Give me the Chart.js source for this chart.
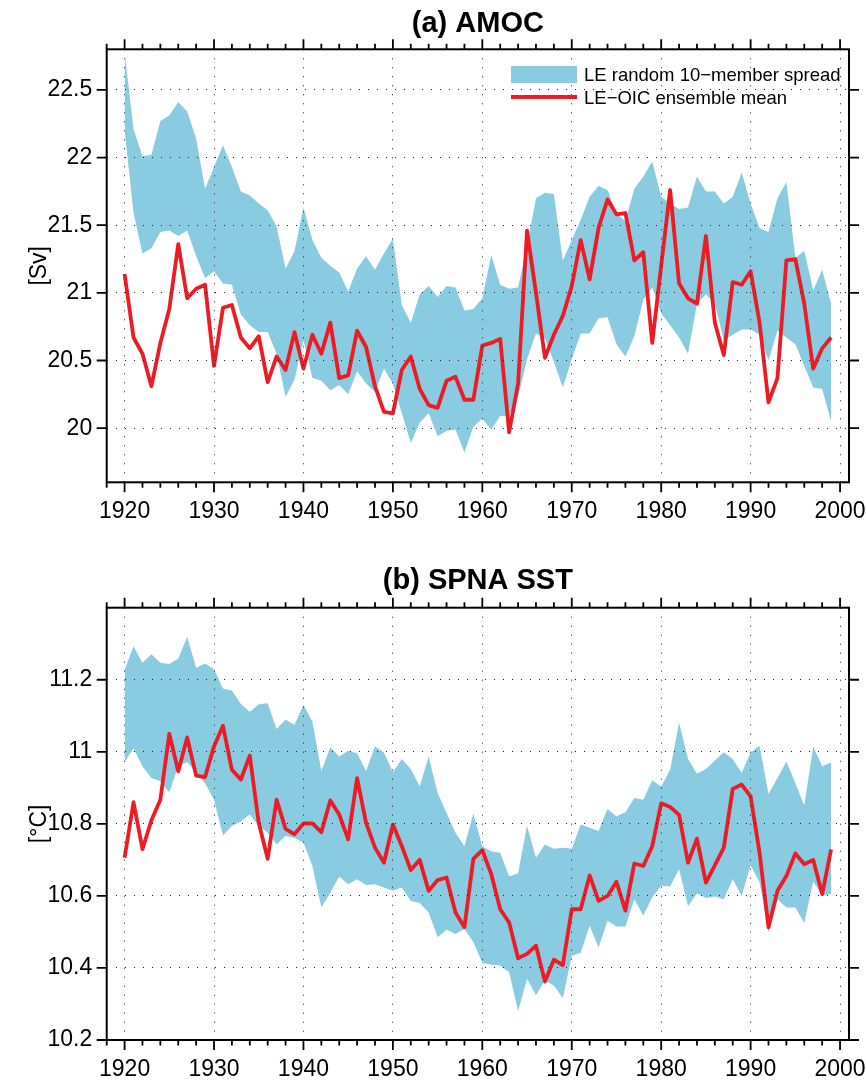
<!DOCTYPE html>
<html>
<head>
<meta charset="utf-8">
<script src="https://cdn.jsdelivr.net/npm/chart.js@4.4.1/dist/chart.umd.min.js"></script>
<style>
html,body{margin:0;padding:0;background:#fff;}
#wrap{position:relative;width:866px;height:1080px;background:#fff;}
.panel{position:absolute;left:0;width:866px;height:540px;}
</style>
</head>
<body>
<div id="wrap">
  <div class="panel" style="top:0px"><canvas id="c1" width="866" height="540"></canvas></div>
  <div class="panel" style="top:540px"><canvas id="c2" width="866" height="540"></canvas></div>
</div>
<script>
// ---------------- DATA ----------------
const years = [1920,1921,1922,1923,1924,1925,1926,1927,1928,1929,
               1930,1931,1932,1933,1934,1935,1936,1937,1938,1939,
               1940,1941,1942,1943,1944,1945,1946,1947,1948,1949,
               1950,1951,1952,1953,1954,1955,1956,1957,1958,1959,
               1960,1961,1962,1963,1964,1965,1966,1967,1968,1969,
               1970,1971,1972,1973,1974,1975,1976,1977,1978,1979,
               1980,1981,1982,1983,1984,1985,1986,1987,1988,1989,
               1990,1991,1992,1993,1994,1995,1996,1997,1998,1999];

const xTickLabels = [1920,1930,1940,1950,1960,1970,1980,1990,2000];
const xMinorTicks = [1918,1920,1922,1924,1926,1928,1930,1932,1934,1936,1938,1940,1942,1944,1946,1948,
                     1950,1952,1954,1956,1958,1960,1962,1964,1966,1968,1970,1972,1974,1976,1978,
                     1980,1982,1984,1986,1988,1990,1992,1994,1996,1998,2000];

// (a) AMOC [Sv]
const amocMean = [21.14,20.67,20.55,20.31,20.63,20.88,21.36,20.96,21.03,21.06,
                  20.46,20.89,20.91,20.67,20.59,20.68,20.34,20.53,20.43,20.71,
                  20.44,20.69,20.55,20.78,20.37,20.39,20.72,20.60,20.31,20.12,
                  20.11,20.43,20.53,20.29,20.17,20.15,20.35,20.38,20.21,20.21,
                  20.61,20.63,20.66,19.97,20.33,21.46,21.00,20.52,20.69,20.83,
                  21.05,21.39,21.10,21.48,21.69,21.58,21.59,21.24,21.30,20.63,
                  21.20,21.76,21.07,20.96,20.92,21.42,20.78,20.54,21.08,21.06,
                  21.16,20.78,20.19,20.37,21.24,21.25,20.92,20.44,20.59,20.67];
const amocUpper = [22.78,22.21,22.01,22.02,22.27,22.31,22.41,22.34,22.14,21.77,
                   21.93,22.09,21.93,21.75,21.72,21.66,21.61,21.49,21.18,21.31,
                   21.63,21.39,21.26,21.20,21.15,21.01,21.18,21.27,21.17,21.29,
                   21.40,20.91,20.78,20.99,21.05,20.97,21.05,21.04,20.87,20.88,
                   20.96,21.28,21.06,21.03,21.04,21.35,21.70,21.74,21.73,21.24,
                   21.39,21.54,21.71,21.79,21.76,21.59,21.53,21.77,21.86,21.97,
                   21.71,21.66,21.62,21.63,21.86,21.75,21.75,21.66,21.71,21.89,
                   21.66,21.48,21.45,21.70,21.82,21.26,21.31,21.02,21.17,20.92];
const amocLower = [22.20,21.59,21.29,21.33,21.45,21.46,21.42,21.46,21.27,21.11,
                   21.16,21.07,21.06,20.84,20.76,20.71,20.71,20.55,20.23,20.36,
                   20.65,20.37,20.35,20.28,20.32,20.25,20.42,20.33,20.27,20.44,
                   20.33,20.11,19.89,20.04,20.11,19.94,19.98,19.99,19.82,20.01,
                   20.07,19.99,20.09,20.09,20.23,20.51,20.70,20.66,20.49,20.30,
                   20.51,20.70,20.70,20.81,20.82,20.62,20.53,20.68,20.95,21.04,
                   20.85,20.76,20.67,20.55,20.92,20.99,20.92,20.65,20.69,20.73,
                   20.73,20.69,20.50,20.72,20.67,20.62,20.46,20.30,20.29,20.05];
const amocYTicks = [20, 20.5, 21, 21.5, 22, 22.5];

// (b) SPNA SST [°C]
const sstMean = [10.706,10.860,10.730,10.810,10.867,11.050,10.946,11.040,10.934,10.930,
                 11.015,11.072,10.950,10.923,10.989,10.803,10.703,10.867,10.786,10.771,
                 10.801,10.801,10.777,10.865,10.826,10.757,10.927,10.803,10.734,10.692,
                 10.798,10.738,10.672,10.700,10.614,10.644,10.651,10.554,10.513,10.703,
                 10.727,10.660,10.563,10.526,10.427,10.439,10.462,10.362,10.423,10.408,
                 10.563,10.563,10.657,10.586,10.600,10.639,10.559,10.690,10.683,10.738,
                 10.857,10.847,10.825,10.692,10.759,10.637,10.685,10.734,10.897,10.909,
                 10.876,10.720,10.513,10.614,10.655,10.718,10.688,10.700,10.605,10.729];
const sstUpper = [11.227,11.293,11.247,11.271,11.247,11.244,11.259,11.319,11.233,11.245,
                  11.229,11.176,11.170,11.133,11.111,11.132,11.135,11.063,11.090,11.075,
                  11.130,11.084,10.947,11.012,10.987,11.003,10.996,10.947,11.015,10.998,
                  10.943,10.980,10.952,10.904,10.987,10.886,10.830,10.775,10.738,10.829,
                  10.738,10.724,10.720,10.654,10.663,10.795,10.706,10.743,10.731,10.734,
                  10.731,10.798,10.789,10.780,10.841,10.821,10.832,10.872,10.867,10.921,
                  10.904,10.950,11.081,10.980,10.939,10.952,10.976,10.999,10.980,10.941,
                  10.998,11.017,10.883,10.927,10.973,10.913,10.851,11.015,10.960,10.970];
const sstLower = [10.971,11.010,10.960,10.927,10.918,10.888,10.960,10.971,10.941,10.913,
                  10.867,10.768,10.794,10.807,10.826,10.794,10.775,10.743,10.766,10.761,
                  10.748,10.683,10.568,10.609,10.654,10.632,10.646,10.630,10.632,10.623,
                  10.614,10.623,10.586,10.580,10.554,10.485,10.506,10.494,10.508,10.471,
                  10.414,10.409,10.407,10.388,10.280,10.370,10.324,10.365,10.351,10.316,
                  10.434,10.442,10.517,10.457,10.531,10.515,10.515,10.591,10.545,10.596,
                  10.628,10.626,10.674,10.571,10.607,10.594,10.598,10.591,10.646,10.600,
                  10.685,10.637,10.499,10.591,10.568,10.568,10.525,10.641,10.600,10.605];
const sstYTicks = [10.2, 10.4, 10.6, 10.8, 11, 11.2];

const spreadLabel = 'LE random 10\u2212member spread';
const meanLabel = 'LE\u2212OIC ensemble mean';

// ---------------- STYLE ----------------
const FONT = "'Liberation Sans', Arial, Helvetica, sans-serif";
const BLUE = 'rgb(137,204,226)';
const RED = 'rgb(237,27,36)';

const pts = arr => years.map((yr, i) => ({x: yr, y: arr[i]}));

const framePlugin = {
  id: 'frame',
  afterDraw(chart, args, o) {
    const {ctx, chartArea: a, scales: {x, y}} = chart;
    ctx.save();
    ctx.strokeStyle = '#000';
    ctx.lineWidth = 1.8;
    ctx.beginPath();
    xMinorTicks.forEach(v => {
      const px = x.getPixelForValue(v);
      const len = xTickLabels.includes(v) ? 10 : 5.5;
      ctx.moveTo(px, a.bottom); ctx.lineTo(px, a.bottom + len);
      ctx.moveTo(px, a.top); ctx.lineTo(px, a.top - len);
    });
    (o.yTicks || []).forEach(v => {
      const py = y.getPixelForValue(v);
      ctx.moveTo(a.left, py); ctx.lineTo(a.left - 10, py);
      ctx.moveTo(a.right, py); ctx.lineTo(a.right + 10, py);
    });
    ctx.stroke();
    ctx.lineWidth = 2;
    ctx.strokeRect(a.left, a.top, a.right - a.left, a.bottom - a.top);
    ctx.restore();
  }
};

const legendPlugin = {
  id: 'bandLegend',
  afterDraw(chart, args, o) {
    if (!o.show) return;
    const {ctx, chartArea: a} = chart;
    const ds = chart.data.datasets;
    const x0 = a.right - 338;
    ctx.save();
    ctx.fillStyle = ds[1].backgroundColor;
    ctx.fillRect(x0, a.top + 16.7, 66, 17);
    ctx.strokeStyle = ds[0].borderColor;
    ctx.lineWidth = 4;
    ctx.beginPath();
    ctx.moveTo(x0, a.top + 47.7); ctx.lineTo(x0 + 66, a.top + 47.7);
    ctx.stroke();
    ctx.fillStyle = '#000';
    ctx.font = '18.5px ' + FONT;
    ctx.textBaseline = 'alphabetic';
    ctx.textAlign = 'left';
    ctx.fillText(ds[1].label, x0 + 73, a.top + 31.4);
    ctx.fillText(ds[0].label, x0 + 73, a.top + 54.7);
    ctx.restore();
  }
};

function makeChart(id, c) {
  return new Chart(document.getElementById(id), {
    type: 'line',
    data: {
      datasets: [
        {label: meanLabel, data: pts(c.mean), borderColor: RED, borderWidth: 3.8,
         pointRadius: 0, fill: false, tension: 0, borderJoinStyle: 'round', borderCapStyle: 'butt'},
        {label: spreadLabel, data: pts(c.upper), borderColor: 'rgba(0,0,0,0)', borderWidth: 0,
         backgroundColor: BLUE, pointRadius: 0, fill: '+1', tension: 0},
        {label: 'lower', data: pts(c.lower), borderColor: 'rgba(0,0,0,0)', borderWidth: 0,
         pointRadius: 0, fill: false, tension: 0}
      ]
    },
    options: {
      responsive: false,
      animation: false,
      events: [],
      devicePixelRatio: 1,
      layout: {padding: {left: 0, right: 17, top: 0, bottom: 0}},
      plugins: {
        legend: {display: false},
        tooltip: {enabled: false},
        title: {display: true, text: c.title, fullSize: false, color: '#000',
                font: {family: FONT, size: 29, weight: 'bold'},
                padding: {top: c.titleTop, bottom: c.titleBottom}},
        frame: {yTicks: c.yTicks},
        bandLegend: {show: c.legend}
      },
      scales: {
        x: {
          type: 'linear', min: 1918, max: 2001,
          afterBuildTicks: s => { s.ticks = xTickLabels.map(v => ({value: v})); },
          afterFit: s => { s.height = c.xHeight; s.paddingLeft = 0; s.paddingRight = 0; },
          grid: {color: '#222', lineWidth: 1, drawTicks: false, z: 1},
          border: {display: false, dash: [1, 8]},
          ticks: {font: {family: FONT, size: 23}, color: '#000', padding: 16,
                  maxRotation: 0, autoSkip: false, callback: v => String(v)}
        },
        y: {
          type: 'linear', min: c.yMin, max: c.yMax,
          afterBuildTicks: s => { s.ticks = c.yTicks.map(v => ({value: v})); },
          afterFit: s => { s.width = 106.7; s.paddingTop = 0; s.paddingBottom = 0; },
          grid: {color: '#222', lineWidth: 1, drawTicks: false, z: 1},
          border: {display: false, dash: [1, 8]},
          title: {display: true, text: c.yTitle, color: '#000',
                  font: {family: FONT, size: 23}, padding: {top: 26, bottom: 0}},
          ticks: {font: {family: FONT, size: 23}, color: '#000', padding: 14.5,
                  autoSkip: false, callback: v => String(v)}
        }
      }
    },
    plugins: [framePlugin, legendPlugin]
  });
}

makeChart('c1', {title: '(a) AMOC', titleTop: 7, titleBottom: 7.5, xHeight: 57.7, yMin: 19.6, yMax: 22.8,
  yTicks: amocYTicks, yTitle: '[Sv]', mean: amocMean, upper: amocUpper, lower: amocLower, legend: true});
makeChart('c2', {title: '(b) SPNA SST', titleTop: 23.9, titleBottom: 9, xHeight: 40, yMin: 10.2, yMax: 11.4,
  yTicks: sstYTicks, yTitle: '[\u00B0C]', mean: sstMean, upper: sstUpper, lower: sstLower, legend: false});
</script>
</body>
</html>
